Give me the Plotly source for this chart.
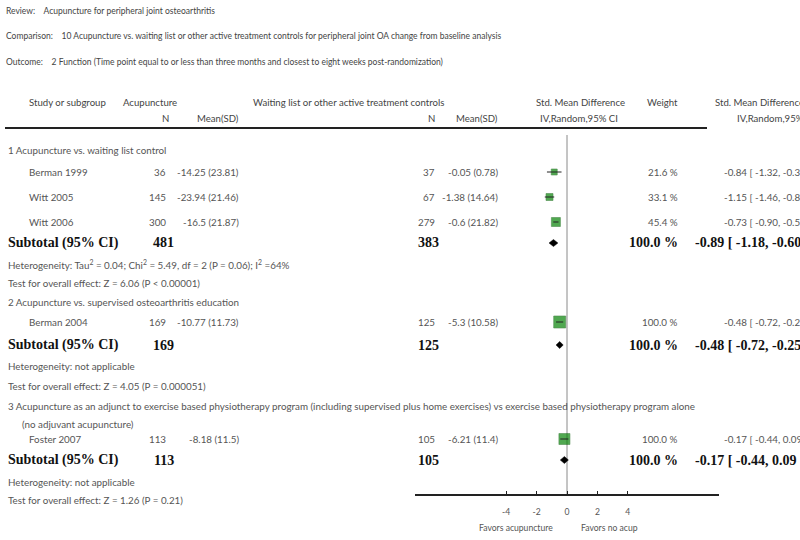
import plotly.graph_objects as go

W, H = 800, 540

# --- data ---
studies = ["Berman 1999", "Witt 2005", "Witt 2006", "Berman 2004", "Foster 2007"]
acu_n = [36, 145, 300, 169, 113]
acu_mean = [-14.25, -23.94, -16.5, -10.77, -8.18]
acu_sd = [23.81, 21.46, 21.87, 11.73, 11.5]
ctl_n = [37, 67, 279, 125, 105]
ctl_mean = [-0.05, -1.38, -0.6, -5.3, -6.21]
ctl_sd = [0.78, 14.64, 21.82, 10.58, 11.4]
smd = [-0.84, -1.15, -0.73, -0.48, -0.17]
smd_lo = [-1.32, -1.46, -0.90, -0.72, -0.44]
smd_hi = [-0.36, -0.84, -0.56, -0.25, 0.09]
weights = [21.6, 33.1, 45.4, 100.0, 100.0]
box_size = [6, 7, 9, 12, 11]

sub_acu_n = [481, 169, 113]
sub_ctl_n = [383, 125, 105]
sub_smd = [-0.89, -0.48, -0.17]
sub_lo = [-1.18, -0.72, -0.44]
sub_hi = [-0.60, -0.25, 0.09]

groups = ["1 Acupuncture vs. waiting list control",
          "2 Acupuncture vs. supervised osteoarthritis education",
          "3 Acupuncture as an adjunct to exercise based physiotherapy program (including supervised plus home exercises) vs exercise based physiotherapy program alone"]
hetero = ["Heterogeneity: Tau<sup>2</sup> = 0.04; Chi<sup>2</sup> = 5.49, df = 2 (P = 0.06); I<sup>2</sup> =64%",
          "Heterogeneity: not applicable",
          "Heterogeneity: not applicable"]
overall = ["Test for overall effect: Z = 6.06 (P < 0.00001)",
           "Test for overall effect: Z = 4.05 (P = 0.000051)",
           "Test for overall effect: Z = 1.26 (P = 0.21)"]
tick_vals = [-4, -2, 0, 2, 4]

# --- row positions (pixels from top) ---
study_y = [172, 197, 222, 322, 439]
sub_y = [243, 345, 460]
group_y = [150, 302, 406]
het_y = [264, 366, 482]
test_y = [283, 386, 500]

SANS = "Lato"
SERIF = "Liberation Serif"
BODY = 9.8
BOLD = 14
ann = []


def txt(x, y, s, anchor="left", size=BODY, color="#555", bold=False):
    ann.append(dict(x=x / W, y=1 - y / H, xref="paper", yref="paper", text=s, showarrow=False,
                    xanchor=anchor, yanchor="middle",
                    font=dict(size=size, color=color, family=SERIF if bold else SANS)))


# titles
txt(4, 11, "Review:&nbsp;&nbsp;&nbsp; Acupuncture for peripheral joint osteoarthritis", size=8.5, color="#444")
txt(4, 36, "Comparison:&nbsp;&nbsp;&nbsp; 10 Acupuncture vs. waiting list or other active treatment controls for peripheral joint OA change from baseline analysis", size=8.5, color="#444")
txt(4, 62, "Outcome:&nbsp;&nbsp;&nbsp; 2 Function (Time point equal to or less than three months and closest to eight weeks post-randomization)", size=8.5, color="#444")

# column headers
hc = "#444"
txt(27, 102, "Study or subgroup", size=9.6, color=hc)
txt(121, 102, "Acupuncture", size=9.6, color=hc)
txt(251, 102, "Waiting list or other active treatment controls", size=9.6, color=hc)
txt(627, 102, "Std. Mean Difference", anchor="right", size=9.6, color=hc)
txt(680, 102, "Weight", anchor="right", size=9.6, color=hc)
txt(713, 102, "Std. Mean Difference", size=9.6, color=hc)
txt(171, 118, "N", anchor="right", size=9.6, color=hc)
txt(241, 118, "Mean(SD)", anchor="right", size=9.6, color=hc)
txt(437, 118, "N", anchor="right", size=9.6, color=hc)
txt(500, 118, "Mean(SD)", anchor="right", size=9.6, color=hc)
txt(620, 118, "IV,Random,95% CI", anchor="right", size=9.6, color=hc)
txt(735, 118, "IV,Random,95% CI", size=9.6, color=hc)

# study rows
for i, s in enumerate(studies):
    y = study_y[i]
    txt(27, y, s)
    txt(168, y, str(acu_n[i]), anchor="right")
    txt(241, y, f"{acu_mean[i]} ({acu_sd[i]})", anchor="right")
    txt(437, y, str(ctl_n[i]), anchor="right")
    txt(500, y, f"{ctl_mean[i]} ({ctl_sd[i]})", anchor="right")
    txt(680, y, f"{weights[i]:.1f} %", anchor="right")
    txt(722, y, f"{smd[i]:.2f} [ {smd_lo[i]:.2f}, {smd_hi[i]:.2f} ]")

for g in range(3):
    txt(6, group_y[g], groups[g])
    txt(6, sub_y[g], "<b>Subtotal (95% CI)</b>", size=BOLD, color="#111", bold=True)
    txt(176, sub_y[g], f"<b>{sub_acu_n[g]}</b>", anchor="right", size=BOLD, color="#111", bold=True)
    txt(441, sub_y[g], f"<b>{sub_ctl_n[g]}</b>", anchor="right", size=BOLD, color="#111", bold=True)
    txt(680, sub_y[g], "<b>100.0 %</b>", anchor="right", size=BOLD, color="#111", bold=True)
    txt(693, sub_y[g], f"<b>{sub_smd[g]:.2f} [ {sub_lo[g]:.2f}, {sub_hi[g]:.2f} ]</b>", size=BOLD, color="#111", bold=True)
    txt(6, het_y[g], hetero[g])
    txt(6, test_y[g], overall[g])
txt(20, 424, "(no adjuvant acupuncture)")

# favours labels
txt(516, 528, "Favors acupuncture", anchor="center", size=8.6)
txt(609, 528, "Favors no acup", anchor="center", size=8.6)

fig = go.Figure()

# weighted boxes
fig.add_trace(go.Scatter(
    x=smd, y=study_y, mode="markers",
    marker=dict(symbol="square", size=box_size, color="#078407", line=dict(color="#045c04", width=0.6)),
    hoverinfo="skip", showlegend=False))

# confidence intervals drawn over the boxes
for i in range(len(studies)):
    fig.add_trace(go.Scatter(
        x=[smd_lo[i], smd_hi[i]], y=[study_y[i], study_y[i]], mode="lines",
        line=dict(color="#222", width=1), hoverinfo="skip", showlegend=False))

# subtotal diamonds
for g in range(3):
    y = sub_y[g]
    fig.add_trace(go.Scatter(
        x=[sub_lo[g], sub_smd[g], sub_hi[g], sub_smd[g], sub_lo[g]],
        y=[y, y - 3.5, y, y + 3.5, y],
        mode="lines", fill="toself", fillcolor="#000", line=dict(color="#000", width=0.5),
        hoverinfo="skip", showlegend=False))

shapes = [
    dict(type="line", xref="x", yref="y", x0=0, x1=0, y0=135, y1=494, layer="below",
         line=dict(color="#8a8a8a", width=1)),
    dict(type="line", xref="paper", yref="paper", x0=5 / W, x1=707 / W, y0=1 - 128 / H, y1=1 - 128 / H,
         line=dict(color="#222", width=2)),
]

fig.update_layout(
    width=W, height=H, margin=dict(l=0, r=0, t=0, b=0),
    paper_bgcolor="white", plot_bgcolor="white",
    annotations=ann, shapes=shapes, showlegend=False,
    xaxis=dict(domain=[415 / W, 719 / W], range=[-10, 10], showgrid=False, zeroline=False,
               showline=True, linecolor="#222", linewidth=1.5,
               ticks="inside", ticklen=3, tickcolor="#222", tickvals=tick_vals,
               ticktext=[str(v) for v in tick_vals], ticklabelstandoff=9,
               tickfont=dict(family=SANS, size=8.6, color="#555"), fixedrange=True),
    yaxis=dict(domain=[46 / H, 1], range=[494, 0], visible=False, fixedrange=True),
)

fig.write_html("out.html", config={"displayModeBar": False},
               post_script="document.body.style.margin='0px';")
